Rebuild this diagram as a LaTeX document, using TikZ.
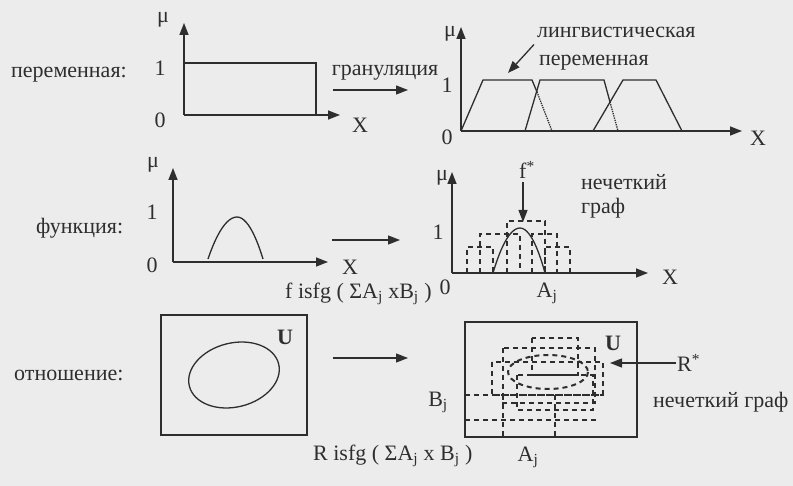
\documentclass[tikz,border=0pt]{standalone}
\usepackage{fontspec}
\setmainfont{Liberation Serif}
\usetikzlibrary{arrows.meta}
\definecolor{paper}{HTML}{ECECEC}
\definecolor{ink}{HTML}{2E2E2E}

\begin{document}
\begin{tikzpicture}[x=1pt, y=-1pt,
    every node/.style={text=ink, inner sep=1pt, font=\fontsize{22}{24}\selectfont},
    lbl/.style={anchor=west},
    axis/.style={draw=ink, line width=1.5pt, -{Triangle[length=12pt, width=9pt]}},
    flow/.style={draw=ink, line width=1.3pt, -{Triangle[length=12pt, width=9pt]}},
    curve/.style={draw=ink, line width=1.3pt},
    granule/.style={draw=ink, line width=1.1pt, dash pattern=on 5pt off 4pt}]
  \fill[paper] (0,0) rectangle (793,486);

  \node[lbl] (var) at (10,75) {переменная:};
  \coordinate (o1) at (184,115);
  \draw[axis] (o1) -- (184,23);
  \draw[axis] (o1) -- (340,115);
  \draw[curve] (184,63) -- (316,63) -- (316,115);
  \node (mu1) at (163,20) {μ};
  \node (one1) at (160,68) {1};
  \node (zero1) at (160,120) {0};
  \node (x1) at (360,125) {X};

  \node (gran) at (385,73) {грануляция};
  \coordinate (g1) at (333,90);
  \coordinate (g2) at (408,90);
  \draw[flow] (g1) -- (g2);

  \coordinate (o2) at (461,131);
  \draw[axis] (o2) -- (461,27);
  \draw[axis] (o2) -- (742,131);
  \draw[curve] (o2) -- (483,80) -- (532,80) -- (537,92);
  \draw[curve, densely dotted] (537,92) -- (552,131);
  \draw[curve] (525,131) -- (540,80) -- (604,80) -- (610,102);
  \draw[curve, densely dotted] (610,102) -- (618,131);
  \draw[curve] (593,131) -- (623,80) -- (656,80) -- (682,131);
  \node (mu2) at (450,34) {μ};
  \node (one2) at (447,85) {1};
  \node (zero2) at (447,137) {0};
  \node (x2) at (758,138) {X};
  \node[lbl] (ling) at (536,32) {лингвистическая};
  \node[lbl] (lvar) at (538,63) {переменная};
  \coordinate (t1) at (508,73);
  \draw[flow] (ling.south west) ++(-2,6) coordinate (l1) (l1) -- (t1);

  \node[lbl] (func) at (35,228) {функция:};
  \coordinate (o3) at (173,262);
  \draw[axis] (o3) -- (173,168);
  \draw[axis] (o3) -- (328,262);
  \draw[curve] (208,259) parabola bend (237,217) (263,259);
  \node (mu3) at (153,165) {μ};
  \node (one3) at (152,212) {1};
  \node (zero3) at (152,265) {0};
  \node[inner sep=0pt] (x3) at (350,267) {X};
  \coordinate (f1) at (332,240);
  \coordinate (f2) at (400,240);
  \draw[flow] (f1) -- (f2);
  \node[lbl, inner sep=0pt] (fdef) at (285,294) {f isfg ( ΣA\textsubscript{j} xB\textsubscript{j} )};

  \coordinate (o4) at (452,273);
  \draw[axis] (o4) -- (452,172);
  \draw[axis] (o4) -- (648,273);
  \draw[granule] (467,273) rectangle (493,247);
  \draw[granule] (480,273) rectangle (520,234);
  \draw[granule] (507,273) rectangle (545,221);
  \draw[granule] (532,273) rectangle (557,234);
  \draw[granule] (545,273) rectangle (570,247);
  \draw[curve] (493,273) parabola bend (520,228) (545,273);
  \node (mu4) at (442,178) {μ};
  \node (one4) at (438,232) {1};
  \node (zero4) at (445,287) {0};
  \node (x4) at (670,277) {X};
  \node (fstar) at (527,170) {f\textsuperscript{*}};
  \coordinate (fs) at (523,222);
  \draw[flow] (fstar.south) ++(-4,2) coordinate (fa) (fa) -- (fs);
  \node[lbl] (fuz1) at (580,182) {нечеткий};
  \node[lbl] (fuz2) at (580,208) {граф};
  \node (aj1) at (547,293) {A\textsubscript{j}};

  \node[lbl] (rel) at (13,375) {отношение:};
  \draw[curve] (161,315) rectangle (307,435);
  \node (u1) at (285,337) {\textbf{U}};
  \draw[curve, rotate around={14:(234,375)}] (234,375) ellipse [x radius=46, y radius=32];
  \coordinate (r1) at (333,358);
  \coordinate (r2) at (408,358);
  \draw[flow] (r1) -- (r2);
  \node[lbl] (rdef) at (312,456) {R isfg ( ΣA\textsubscript{j} x B\textsubscript{j} )};

  \draw[curve] (465,322) rectangle (637,437);
  \node (u2) at (613,343) {\textbf{U}};
  \draw[granule] (532,338) rectangle (578,375);
  \draw[granule] (503,348) rectangle (595,403);
  \draw[granule] (492,362) rectangle (603,395);
  \draw[granule] (517,375) rectangle (593,410);
  \draw[granule, line width=2pt] (548,372) ellipse [x radius=40, y radius=17];
  \draw[granule] (465,395) -- (603,395);
  \draw[granule] (465,420) -- (597,420);
  \draw[granule] (503,395) -- (503,437);
  \draw[granule] (555,395) -- (555,437);
  \node[lbl] (rstar) at (676,363) {R\textsuperscript{*}};
  \coordinate (rs) at (610,363);
  \draw[flow] (rstar.west) -- (rs);
  \node (bj) at (438,402) {B\textsubscript{j}};
  \node[lbl] (fuz3) at (652,402) {нечеткий граф};
  \node (aj2) at (528,457) {A\textsubscript{j}};
\end{tikzpicture}
\end{document}
